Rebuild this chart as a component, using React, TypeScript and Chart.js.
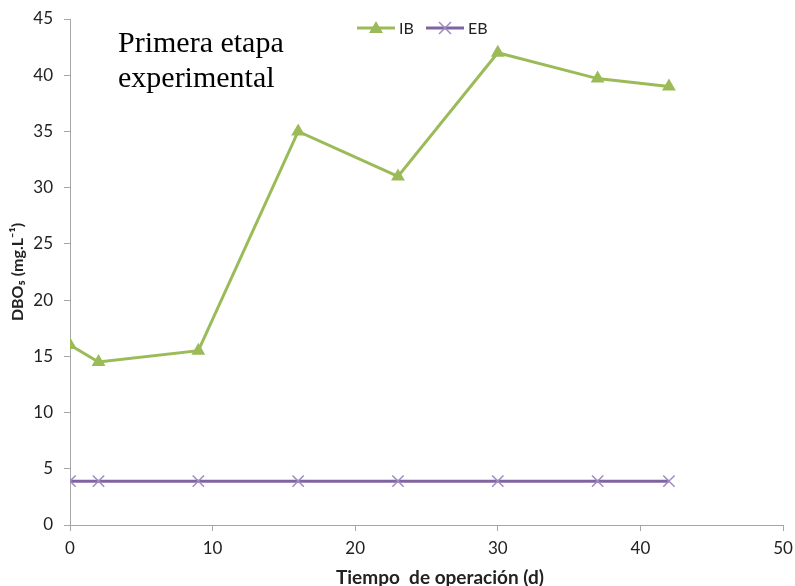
import React, { useEffect, useRef } from "react";
import { Chart, registerables } from "chart.js";

Chart.register(...registerables);

const days = [0, 2, 9, 16, 23, 30, 37, 42];
const ibValues = [16, 14.5, 15.5, 35, 31, 42, 39.7, 39];
const ebValues = [3.9, 3.9, 3.9, 3.9, 3.9, 3.9, 3.9, 3.9];
const seriesNames = ["IB", "EB"];
const xTitle = "Tiempo  de operación (d)";
const yTitle = "DBO₅ (mg.L⁻¹)";
const annotation = ["Primera etapa", "experimental"];

const GREEN = "#9BBB59";
const PURPLE = "#8064A2";
const PURPLE_LIGHT = "#9F8BC0";
const AXIS = "#A6A6A6";
const FONT = "Lato, 'Open Sans', sans-serif";

const legendPlugin = {
  id: "customLegend",
  afterDraw(chart: any) {
    const ctx = chart.ctx;
    ctx.save();
    const y = 28;
    const items = [
      { name: seriesNames[0], color: GREEN, marker: "triangle", x: 357 },
      { name: seriesNames[1], color: PURPLE, marker: "cross", x: 426 },
    ];
    for (const it of items) {
      ctx.strokeStyle = it.color;
      ctx.lineWidth = 3;
      ctx.beginPath();
      ctx.moveTo(it.x, y);
      ctx.lineTo(it.x + 38, y);
      ctx.stroke();
      const cx = it.x + 19;
      if (it.marker === "triangle") {
        ctx.fillStyle = it.color;
        ctx.beginPath();
        ctx.moveTo(cx, y - 7);
        ctx.lineTo(cx + 7, y + 5);
        ctx.lineTo(cx - 7, y + 5);
        ctx.closePath();
        ctx.fill();
      } else {
        ctx.strokeStyle = PURPLE_LIGHT;
        ctx.lineWidth = 1.5;
        ctx.beginPath();
        ctx.moveTo(cx - 6, y - 6);
        ctx.lineTo(cx + 6, y + 6);
        ctx.moveTo(cx + 6, y - 6);
        ctx.lineTo(cx - 6, y + 6);
        ctx.stroke();
      }
      ctx.fillStyle = "#222";
      ctx.font = `16px ${FONT}`;
      ctx.textBaseline = "middle";
      ctx.textAlign = "left";
      ctx.fillText(it.name, it.x + 42, y + 1);
    }
    // x axis title
    ctx.fillStyle = "#222";
    ctx.font = `bold 19px ${FONT}`;
    ctx.textAlign = "center";
    ctx.textBaseline = "middle";
    ctx.fillText(xTitle, 440, 578);
    ctx.restore();
  },
};

export default function App() {
  const ref = useRef<HTMLCanvasElement>(null);
  useEffect(() => {
    const chart = new Chart(ref.current!, {
      type: "line",
      data: {
        datasets: [
          {
            label: seriesNames[0],
            data: days.map((d, i) => ({ x: d, y: ibValues[i] })),
            borderColor: GREEN,
            backgroundColor: GREEN,
            borderWidth: 3,
            pointStyle: "triangle",
            pointRadius: 8,
            pointBorderWidth: 0,
            pointBackgroundColor: GREEN,
            tension: 0,
          },
          {
            label: seriesNames[1],
            data: days.map((d, i) => ({ x: d, y: ebValues[i] })),
            borderColor: PURPLE,
            backgroundColor: PURPLE,
            borderWidth: 3,
            pointStyle: "crossRot",
            pointRadius: 8,
            pointBorderWidth: 1.5,
            pointBorderColor: PURPLE_LIGHT,
            tension: 0,
          },
        ],
      },
      options: {
        animation: false,
        responsive: false,
        layout: { padding: { top: 19, right: 12, left: 0, bottom: 0 } },
        plugins: { legend: { display: false }, tooltip: { enabled: false } },
        scales: {
          x: {
            type: "linear",
            min: 0,
            max: 50,
            ticks: { stepSize: 10, color: "#222", font: { family: FONT, size: 17 }, padding: 7 },
            grid: { drawOnChartArea: false, color: AXIS, tickLength: 6 },
            border: { color: AXIS, width: 1 },
            title: { display: false },
            afterFit: (s: any) => {
              s.height = 61;
              s.paddingLeft = 0;
              s.paddingRight = 0;
            },
          },
          y: {
            min: 0,
            max: 45,
            ticks: { stepSize: 5, color: "#222", font: { family: FONT, size: 17 }, padding: 11 },
            grid: { drawOnChartArea: false, color: AXIS, tickLength: 6 },
            border: { color: AXIS, width: 1 },
            title: {
              display: true,
              text: yTitle,
              color: "#222",
              font: { family: FONT, size: 16, weight: "bold", lineHeight: 1 },
              padding: { top: 10, bottom: 0 },
            },
            afterFit: (s: any) => {
              s.width = 70;
              s.paddingTop = 0;
              s.paddingBottom = 0;
            },
          },
        },
      },
      plugins: [legendPlugin],
    } as any);
    return () => chart.destroy();
  }, []);
  return (
    <div style={{ position: "absolute", left: 0, top: 0, width: 795, height: 586, background: "#fff" }}>
      <canvas ref={ref} width={795} height={586} style={{ display: "block" }} />
      <div
        style={{
          position: "absolute",
          left: 118,
          top: 24,
          fontFamily: "'Liberation Serif', 'Times New Roman', serif",
          fontSize: 30,
          lineHeight: "35px",
          color: "#000",
        }}
      >
        {annotation.map((t) => (
          <div key={t}>{t}</div>
        ))}
      </div>
    </div>
  );
}
